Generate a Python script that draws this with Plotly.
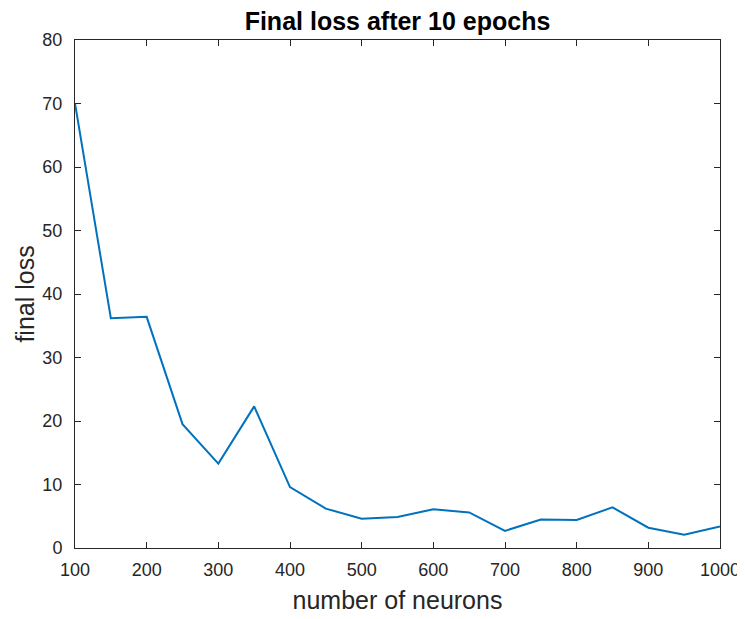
import plotly.graph_objects as go

neurons = [100, 150, 200, 250, 300, 350, 400, 450, 500, 550, 600, 650, 700, 750, 800, 850, 900, 950, 1000]
final_loss = [70.0, 36.2, 36.4, 19.5, 13.3, 22.3, 9.6, 6.2, 4.6, 4.9, 6.1, 5.6, 2.7, 4.5, 4.4, 6.4, 3.2, 2.1, 3.4]

x_ticks = [100, 200, 300, 400, 500, 600, 700, 800, 900, 1000]
y_ticks = [0, 10, 20, 30, 40, 50, 60, 70, 80]

font_family = "Liberation Sans, Arial, sans-serif"

fig = go.Figure()
fig.add_trace(go.Scatter(
    x=neurons, y=final_loss, mode="lines",
    line=dict(color="#0072BD", width=2),
    showlegend=False,
))

axis_common = dict(
    showline=True, linecolor="#262626", linewidth=1, mirror="ticks",
    ticks="inside", ticklen=6, tickcolor="#262626", showgrid=False, zeroline=False,
    automargin=False,
    tickfont=dict(family=font_family, size=18, color="#262626"),
)

# page body has an 8px margin, so the figure is sized to fit inside the window
W, H = 737, 611
fig.update_layout(
    width=W, height=H,
    margin=dict(l=67, r=25, t=32, b=71),
    paper_bgcolor="white", plot_bgcolor="white",
    title=dict(text="<b>Final loss after 10 epochs</b>", x=0.5, xanchor="center",
               xref="paper", yref="container", y=1 - 13 / H, yanchor="middle",
               automargin=False,
               font=dict(family=font_family, size=25, color="black")),
    xaxis=dict(range=[100, 1000], tickvals=x_ticks, ticklabelstandoff=5,
               title=dict(text="number of neurons", standoff=12,
                          font=dict(family=font_family, size=25, color="#262626")),
               **axis_common),
    yaxis=dict(range=[0, 80], tickvals=y_ticks, ticklabelstandoff=8,
               title=dict(text="final loss", standoff=0,
                          font=dict(family=font_family, size=25, color="#262626")),
               **axis_common),
)

fig.write_html("out.html")
